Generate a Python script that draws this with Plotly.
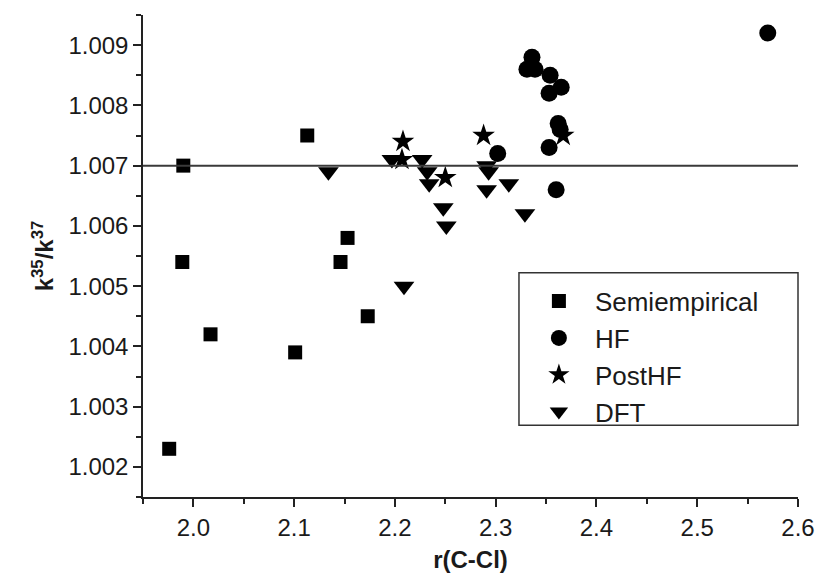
import plotly.graph_objects as go

semi_x = [1.976, 1.990, 1.989, 2.017, 2.101, 2.113, 2.153, 2.146, 2.173]
semi_y = [1.0023, 1.0070, 1.0054, 1.0042, 1.0039, 1.0075, 1.0058, 1.0054, 1.0045]

hf_x = [2.336, 2.331, 2.339, 2.354, 2.365, 2.353, 2.362, 2.364, 2.353, 2.360, 2.302, 2.570]
hf_y = [1.0088, 1.0086, 1.0086, 1.0085, 1.0083, 1.0082, 1.0077, 1.0076, 1.0073, 1.0066, 1.0072, 1.0092]

post_x = [2.208, 2.207, 2.250, 2.288, 2.367]
post_y = [1.0074, 1.0071, 1.0068, 1.0075, 1.0075]

dft_x = [2.134, 2.209, 2.197, 2.227, 2.232, 2.234, 2.248, 2.251, 2.291, 2.293, 2.291, 2.313, 2.329]
dft_y = [1.0069, 1.0050, 1.0071, 1.0071, 1.0069, 1.0067, 1.0063, 1.0060, 1.0070, 1.0069, 1.0066, 1.0067, 1.0062]

ref_line = 1.007

x_ticks = [2.0, 2.1, 2.2, 2.3, 2.4, 2.5, 2.6]
y_ticks = [1.002, 1.003, 1.004, 1.005, 1.006, 1.007, 1.008, 1.009]

series = [
    ("Semiempirical", semi_x, semi_y, "square", 14),
    ("HF", hf_x, hf_y, "circle", 17),
    ("PostHF", post_x, post_y, "star", 17),
    ("DFT", dft_x, dft_y, "triangle-down", 18),
]

fig = go.Figure()
for i, (name, xs, ys, sym, sz) in enumerate(series):
    fig.add_trace(go.Scatter(
        x=xs, y=ys, mode="markers", name=name, legendgroup=str(i),
        marker=dict(symbol=sym, size=sz, color="black", line=dict(width=0)),
    ))

fig.add_shape(type="line", xref="paper", x0=0, x1=1, yref="y", y0=ref_line, y1=ref_line,
              line=dict(color="#3a3a3a", width=2))
fig.add_shape(type="rect", xref="paper", yref="paper", x0=0.574, x1=1.0, y0=0.149, y1=0.465,
              line=dict(color="#333", width=1.5))

fam = "Liberation Sans, Arial, sans-serif"
fig.update_layout(
    width=817, height=586,
    margin=dict(l=143, r=19, t=15, b=89, autoexpand=False),
    paper_bgcolor="white", plot_bgcolor="white",
    font=dict(family=fam, size=24, color="#1a1a1a"),
    showlegend=True,
    legend=dict(x=0.58, y=0.455, xanchor="left", yanchor="top",
                bgcolor="rgba(0,0,0,0)", borderwidth=0,
                tracegroupgap=0, traceorder="grouped",
                itemwidth=62, font=dict(size=26, color="#1a1a1a")),
    xaxis=dict(range=[1.95, 2.6], tickvals=x_ticks, automargin=False,
               ticktext=[f"{v:.1f}" for v in x_ticks],
               ticks="outside", ticklen=8, tickwidth=1.5, tickcolor="#222",
               tickfont=dict(size=24),
               minor=dict(dtick=0.05, tick0=1.95, ticks="outside", ticklen=5, tickwidth=1.5, tickcolor="#222"),
               showline=True, linecolor="#222", linewidth=1.5, showgrid=False, zeroline=False,
               title=dict(text="<b>r(C-Cl)</b>", standoff=12, font=dict(size=24))),
    yaxis=dict(range=[1.0015, 1.0095], automargin=False,
               tickvals=y_ticks,
               ticktext=[f"{v:.3f}" for v in y_ticks],
               ticks="outside", ticklen=8, tickwidth=1.5, tickcolor="#222",
               tickfont=dict(size=24),
               minor=dict(dtick=0.0005, tick0=1.0015, ticks="outside", ticklen=5, tickwidth=1.5, tickcolor="#222"),
               showline=True, linecolor="#222", linewidth=1.5, showgrid=False, zeroline=False,
               title=dict(text="<b>k<sup>35</sup>/k<sup>37</sup></b>", standoff=8, font=dict(size=24))),
)

fig.write_html("out.html")
